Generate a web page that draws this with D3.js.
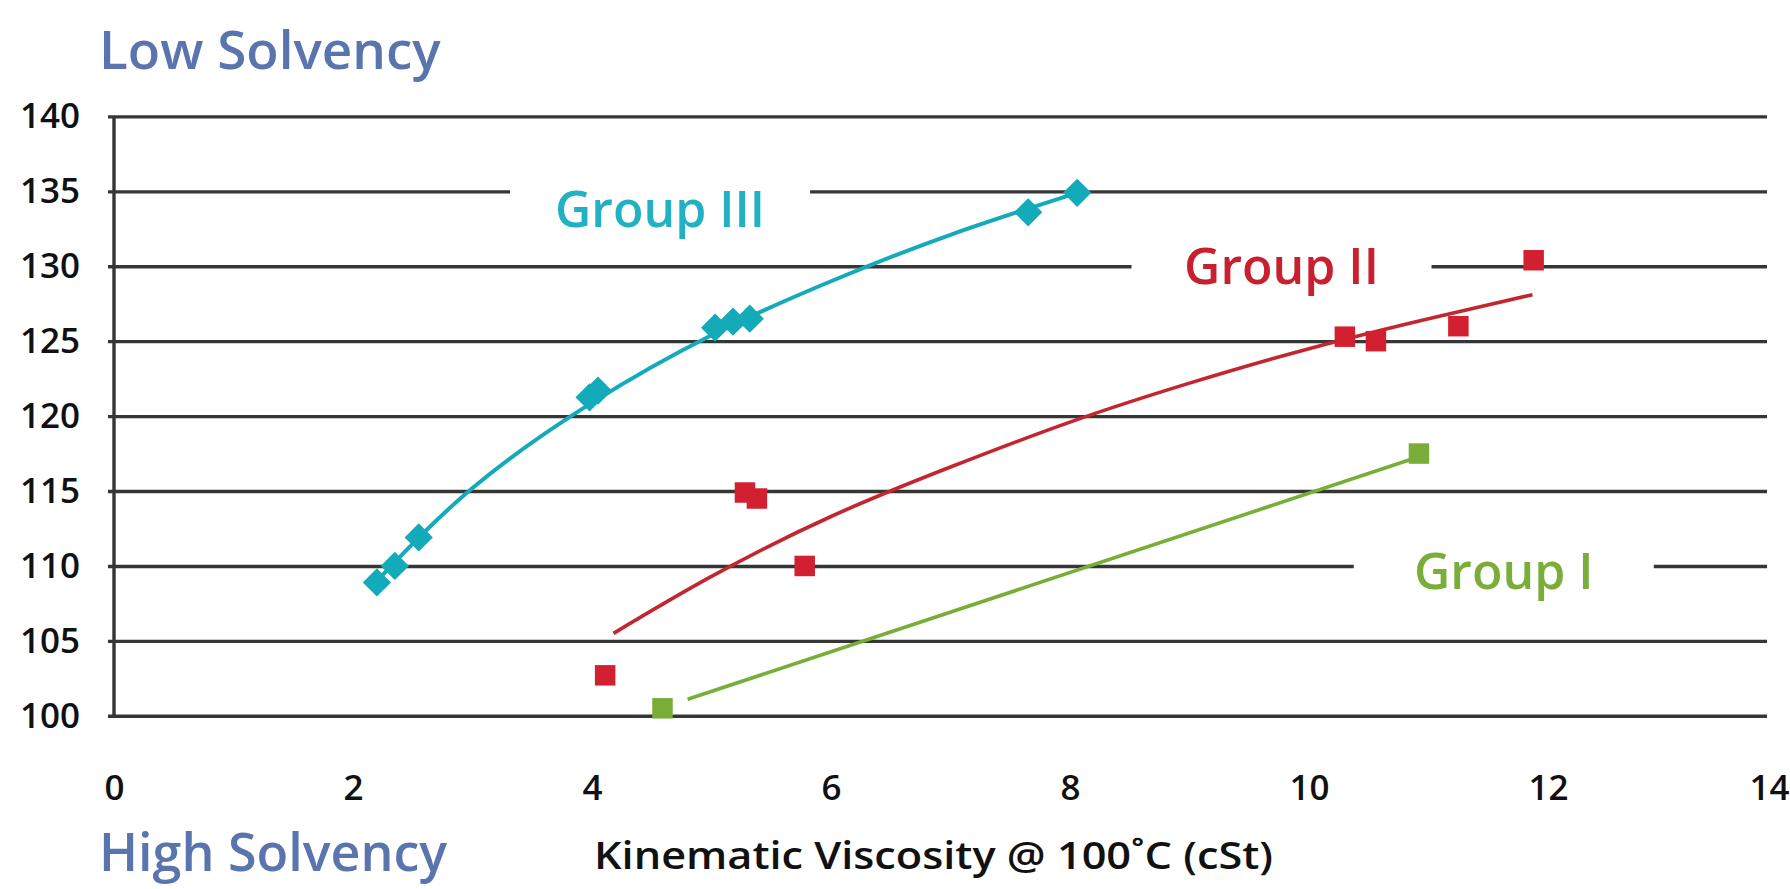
<!DOCTYPE html>
<html lang="en">
<head>
    <meta charset="UTF-8">
    <title>Solvency vs Kinematic Viscosity</title>
    <script src="https://cdn.jsdelivr.net/npm/d3@7"></script>
    <style>
        body { margin: 0; background: #fff; }
        text { font-family: "Open Sans", sans-serif; }
    </style>
</head>
<body>
<div id="chart"></div>

<script>
    // tick values
    var xTicks = [0, 2, 4, 6, 8, 10, 12, 14];
    var yTicks = [100, 105, 110, 115, 120, 125, 130, 135, 140];

    // Group III (diamonds)
    var g3X = [2.20, 2.35, 2.55, 3.98, 4.05, 5.03, 5.18, 5.32, 7.65, 8.06];
    var g3Y = [108.9, 110.0, 111.9, 121.25, 121.7, 125.9, 126.3, 126.5, 133.6, 134.9];
    // Group II (squares)
    var g2X = [4.11, 5.28, 5.38, 5.78, 10.30, 10.56, 11.25, 11.88];
    var g2Y = [102.7, 114.9, 114.5, 110.0, 125.3, 125.0, 126.0, 130.4];
    // Group I (squares)
    var g1X = [4.59, 10.92];
    var g1Y = [100.5, 117.5];

    // trend lines
    var g3FitX = [2.2, 3, 4, 5, 6, 7, 8.06];
    var g3FitY = [109.0, 115.2, 120.9, 125.4, 129.0, 132.1, 134.9];
    var g2FitX = [4.18, 5, 6, 7, 8, 9, 10, 11, 11.87];
    var g2FitY = [105.5, 109.3, 113.3, 116.6, 119.6, 122.2, 124.5, 126.5, 128.1];
    var g1FitX = [4.80, 10.85];
    var g1FitY = [101.1, 117.1];

    var width = 1790;
    var height = 889;
    var left = 114;
    var gridRight = 1767;

    var x = d3.scaleLinear().domain([0, 14]).range([left, left + 14 * 119.5]);
    var y = d3.scaleLinear().domain([100, 140]).range([715.8, 116.4]);

    var cyan = '#13aab9', red = '#cc2030', green = '#78ad38', blue = '#5a74ad';

    var svg = d3.select('#chart')
                .append('svg')
                .attr('width', width)
                .attr('height', height);

    svg.append('rect').attr('width', width).attr('height', height).attr('fill', '#fff');

    // horizontal gridlines + y labels
    var yAxis = svg.append('g')
        .attr('transform', 'translate(' + left + ',0)')
        .call(d3.axisLeft(y).tickValues(yTicks).tickSize(-(gridRight - left)).tickPadding(34));
    yAxis.select('.domain').remove();
    yAxis.selectAll('.tick line')
        .attr('x1', -6)
        .attr('stroke', '#363636')
        .attr('stroke-width', 3.4);
    yAxis.selectAll('.tick text')
        .attr('fill', '#111')
        .style('font-size', '35px')
        .style('font-weight', 600)
        .style('font-family', '"Open Sans", sans-serif');

    // vertical axis line
    svg.append('line')
        .attr('x1', left).attr('x2', left)
        .attr('y1', y(140)).attr('y2', y(100))
        .attr('stroke', '#363636')
        .attr('stroke-width', 3.4);

    // x labels
    var xAxis = svg.append('g')
        .attr('transform', 'translate(0,' + y(100) + ')')
        .call(d3.axisBottom(x).tickValues(xTicks).tickSize(0));
    xAxis.select('.domain').remove();
    xAxis.selectAll('.tick text')
        .attr('y', 84)
        .attr('dy', null)
        .attr('fill', '#111')
        .style('font-size', '35px')
        .style('font-weight', 600)
        .style('font-family', '"Open Sans", sans-serif');
    // last label sits against the right edge
    xAxis.selectAll('.tick text')
        .filter(function(d) { return d === 14; })
        .attr('text-anchor', 'end')
        .attr('x', 2);

    // group labels knock out a piece of their gridline
    var labels = [
        {name: 'Group III', color: '#22b1c3', cx: 4.57, grid: 135, dy: 36},
        {name: 'Group II', color: '#c9202f', cx: 9.77, grid: 130, dy: 18},
        {name: 'Group I', color: '#7aae3a', cx: 11.63, grid: 110, dy: 23}
    ];
    svg.selectAll('.gap')
        .data(labels)
        .join('rect')
        .attr('class', 'gap')
        .attr('x', function(d) { return x(d.cx) - 150; })
        .attr('y', function(d) { return y(d.grid) - 7; })
        .attr('width', 300)
        .attr('height', 14)
        .attr('fill', '#fff');

    // trend lines
    var line = d3.line()
        .x(function(d) { return x(d[0]); })
        .y(function(d) { return y(d[1]); })
        .curve(d3.curveNatural);

    var fits = [
        {xs: g1FitX, ys: g1FitY, color: green, w: 3.6},
        {xs: g2FitX, ys: g2FitY, color: '#c2262e', w: 3.6},
        {xs: g3FitX, ys: g3FitY, color: cyan, w: 4}
    ];
    svg.selectAll('.fit')
        .data(fits)
        .join('path')
        .attr('class', 'fit')
        .attr('d', function(d) { return line(d3.zip(d.xs, d.ys)); })
        .attr('fill', 'none')
        .attr('stroke', function(d) { return d.color; })
        .attr('stroke-width', function(d) { return d.w; });

    // markers
    var square = d3.symbol().type(d3.symbolSquare).size(420);
    var diamond = d3.symbol().type(d3.symbolSquare).size(400);

    svg.selectAll('.g1')
        .data(d3.zip(g1X, g1Y))
        .join('path')
        .attr('class', 'g1')
        .attr('d', square)
        .attr('fill', green)
        .attr('transform', function(d) { return 'translate(' + x(d[0]) + ',' + y(d[1]) + ')'; });

    svg.selectAll('.g2')
        .data(d3.zip(g2X, g2Y))
        .join('path')
        .attr('class', 'g2')
        .attr('d', square)
        .attr('fill', '#d32030')
        .attr('transform', function(d) { return 'translate(' + x(d[0]) + ',' + y(d[1]) + ')'; });

    svg.selectAll('.g3')
        .data(d3.zip(g3X, g3Y))
        .join('path')
        .attr('class', 'g3')
        .attr('d', diamond)
        .attr('fill', cyan)
        .attr('transform', function(d) { return 'translate(' + x(d[0]) + ',' + y(d[1]) + ') rotate(45)'; });

    // label text
    svg.selectAll('.group-label')
        .data(labels)
        .join('text')
        .attr('class', 'group-label')
        .attr('x', function(d) { return x(d.cx); })
        .attr('y', function(d) { return y(d.grid) + d.dy; })
        .attr('text-anchor', 'middle')
        .attr('fill', function(d) { return d.color; })
        .style('font-size', '50px')
        .style('font-weight', 600)
        .text(function(d) { return d.name; });

    // solvency notes and axis title
    svg.append('text')
        .attr('x', 99).attr('y', 69)
        .attr('fill', blue)
        .style('font-size', '53px')
        .style('font-weight', 600)
        .text('Low Solvency');

    svg.append('text')
        .attr('x', 99).attr('y', 871)
        .attr('fill', blue)
        .style('font-size', '52px')
        .style('font-weight', 600)
        .text('High Solvency');

    svg.append('text')
        .attr('x', 594).attr('y', 869)
        .attr('fill', '#111')
        .attr('textLength', 679)
        .attr('lengthAdjust', 'spacingAndGlyphs')
        .style('font-size', '38px')
        .style('font-weight', 600)
        .text('Kinematic Viscosity @ 100˚C (cSt)');
</script>
</body>
</html>
